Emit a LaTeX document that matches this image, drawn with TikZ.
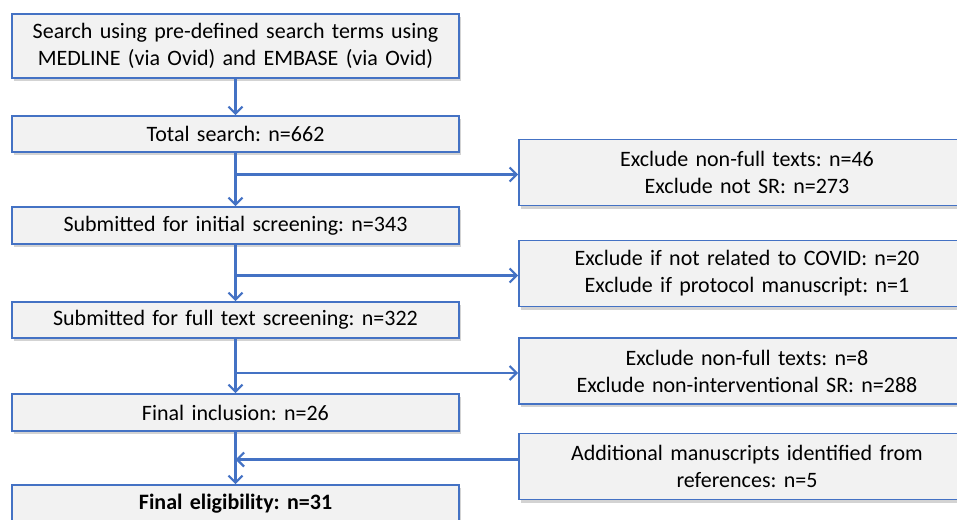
\documentclass[tikz,border=0pt]{standalone}
\usepackage{fontspec}
\setmainfont{Carlito}
\usetikzlibrary{arrows.meta,shadows}
\definecolor{boxblue}{HTML}{4472C4}
\definecolor{boxgray}{HTML}{F2F2F2}
\frenchspacing
\begin{document}
\begin{tikzpicture}[x=1pt,y=1pt,
    font=\fontsize{22}{27}\selectfont,
    box/.style={draw=boxblue, line width=1.6pt, fill=boxgray, align=center,
      inner sep=0pt, drop shadow={shadow xshift=2pt, shadow yshift=-3pt, opacity=0.35}},
    mainbox/.style={box, minimum width=447, text width=440},
    sidebox/.style={box, minimum width=456, text width=440, minimum height=66},
    arr/.style={draw=boxblue, line width=2.2pt, -{Straight Barb[length=7pt,width=14pt,line width=2.2pt]}},
    lin/.style={draw=boxblue, line width=2.2pt}]
  \useasboundingbox (0,0) rectangle (957,-519);
  % main column
  \node[mainbox, minimum height=64] (search) at (235.5,-46) {Search using pre-defined search terms using\\MEDLINE (via Ovid) and EMBASE (via Ovid)};
  \node[mainbox, minimum height=36] (total) at (235.5,-134) {Total search: n=662};
  \node[mainbox, minimum height=37] (initial) at (235.5,-225.5) {Submitted for initial screening: n=343};
  \node[mainbox, minimum height=36] (fulltext) at (235.5,-320) {Submitted for full text screening: n=322};
  \node[mainbox, minimum height=37] (inclusion) at (235.5,-412.5) {Final inclusion: n=26};
  \node[mainbox, minimum height=38] (eligibility) at (235.5,-504) {\textbf{Final eligibility: n=31}};
  % side boxes
  \node[sidebox] (excla) at (747,-172.5) {Exclude non-full texts: n=46\\Exclude not SR: n=273};
  \node[sidebox] (exclb) at (747,-273.5) {Exclude if not related to COVID: n=20\\Exclude if protocol manuscript: n=1};
  \node[sidebox] (exclc) at (747,-371) {Exclude non-full texts: n=8\\Exclude non-interventional SR: n=288};
  \node[sidebox] (additional) at (747,-466.5) {Additional manuscripts identified from\\references: n=5};
  % connectors
  \draw[arr] (search) -- (total);
  \draw[arr] (total) -- (initial);
  \draw[arr] (initial) -- (fulltext);
  \draw[arr] (fulltext) -- (inclusion);
  \draw[arr] (inclusion) -- (eligibility);
  \coordinate (ba) at (total.south |- excla.west);
  \coordinate (bb) at (initial.south |- exclb.west);
  \coordinate (bc) at (fulltext.south |- exclc.west);
  \coordinate (bd) at ([yshift=7pt]additional.west);
  \coordinate (be) at (inclusion.south |- bd);
  \draw[arr] ([yshift=-2pt]ba) -- ([yshift=-2pt]excla.west);
  \draw[arr] ([yshift=-2pt]bb) -- ([yshift=-2pt]exclb.west);
  \draw[arr] ([yshift=-2pt]bc) -- ([yshift=-2pt]exclc.west);
  \draw[arr] (bd) -- (be);
\end{tikzpicture}
\end{document}
